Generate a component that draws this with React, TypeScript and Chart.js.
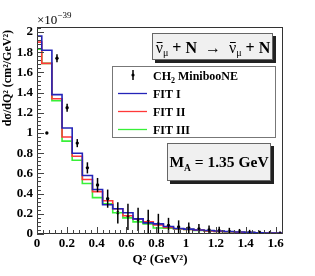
import React, { useEffect, useRef } from 'react';
import { Chart, registerables } from 'chart.js';

Chart.register(...registerables);

// Histogram bin edges (Q^2, GeV^2)
const binEdges = [0, 0.032, 0.1, 0.168, 0.236, 0.304, 0.372, 0.44, 0.508, 0.576, 0.644, 0.712, 0.78, 0.848, 0.916, 0.984, 1.052, 1.12, 1.188, 1.256, 1.324, 1.392, 1.46, 1.528, 1.596, 1.664];
// Bin contents (x 1e-39 cm^2/GeV^2)
const fit1 = [1.5, 1.96, 1.82, 1.38, 1.05, 0.8, 0.58, 0.44, 0.29, 0.25, 0.21, 0.15, 0.11, 0.1, 0.075, 0.055, 0.048, 0.04, 0.035, 0.03, 0.025, 0.02, 0.016, 0.013, 0.01];
const fit2 = [1.57, 1.9, 1.69, 1.34, 0.96, 0.77, 0.54, 0.42, 0.33, 0.25, 0.18, 0.15, 0.12, 0.09, 0.065, 0.052, 0.045, 0.038, 0.03, 0.026, 0.022, 0.018, 0.015, 0.012, 0.01];
const fit3 = [1.37, 1.83, 1.69, 1.32, 0.92, 0.73, 0.5, 0.36, 0.3, 0.21, 0.16, 0.12, 0.1, 0.06, 0.058, 0.05, 0.044, 0.035, 0.03, 0.025, 0.02, 0.017, 0.014, 0.012, 0.01];

// MiniBooNE CH2 data points
const dataQ2 = [0.066, 0.134, 0.202, 0.27, 0.338, 0.406, 0.474, 0.542, 0.61, 0.678, 0.746, 0.814, 0.882, 0.95, 1.018, 1.086, 1.154, 1.222, 1.29, 1.358, 1.426, 1.494, 1.562, 1.63];
const dataVal = [1.0, 1.74, 1.25, 0.9, 0.655, 0.485, 0.35, 0.21, 0.17, 0.145, 0.125, 0.1, 0.085, 0.07, 0.06, 0.05, 0.04, 0.032, 0.026, 0.02, 0.016, 0.013, 0.01, 0.008];
const dataErr = [0.01, 0.04, 0.04, 0.04, 0.055, 0.07, 0.09, 0.105, 0.13, 0.115, 0.115, 0.1, 0.075, 0.065, 0.055, 0.05, 0.045, 0.04, 0.035, 0.03, 0.025, 0.02, 0.018, 0.015];

const seriesNames = ['CH', 'FIT I', 'FIT II', 'FIT III'];
const colors = { fit1: '#2424b8', fit2: '#ff3838', fit3: '#38f038' };

const SERIF = '"Liberation Serif", "Times New Roman", serif';

function stepPoints(vals: number[]) {
  const pts = vals.map((v, i) => ({ x: binEdges[i], y: v }));
  pts.push({ x: binEdges[vals.length], y: vals[vals.length - 1] });
  return pts;
}

type Seg = { t: string; size: number; bold?: boolean; dy?: number; bar?: boolean };

function fontOf(s: Seg) {
  return `${s.bold ? 'bold ' : ''}${s.size}px ${SERIF}`;
}

function segWidth(ctx: CanvasRenderingContext2D, s: Seg) {
  ctx.font = fontOf(s);
  return ctx.measureText(s.t).width;
}

function drawSegs(ctx: CanvasRenderingContext2D, segs: Seg[], x: number, y: number, align: 'left' | 'center') {
  let total = 0;
  segs.forEach((s) => (total += segWidth(ctx, s)));
  let cx = align === 'center' ? x - total / 2 : x;
  ctx.textAlign = 'left';
  ctx.textBaseline = 'alphabetic';
  ctx.fillStyle = '#000';
  segs.forEach((s) => {
    const w = segWidth(ctx, s);
    ctx.font = fontOf(s);
    ctx.fillText(s.t, cx, y + (s.dy || 0));
    if (s.bar) {
      ctx.save();
      ctx.strokeStyle = '#000';
      ctx.lineWidth = 1;
      ctx.beginPath();
      ctx.moveTo(cx + 1, Math.round(y - s.size * 0.66) + 0.5);
      ctx.lineTo(cx + w - 0.5, Math.round(y - s.size * 0.66) + 0.5);
      ctx.stroke();
      ctx.restore();
    }
    cx += w;
  });
}

function shadowBox(ctx: CanvasRenderingContext2D, x: number, y: number, w: number, h: number) {
  ctx.fillStyle = '#222';
  ctx.fillRect(x + 3, y + 3, w, h);
  ctx.fillStyle = '#f0f0f0';
  ctx.fillRect(x, y, w, h);
  ctx.strokeStyle = '#666';
  ctx.lineWidth = 1;
  ctx.strokeRect(x + 0.5, y + 0.5, w - 1, h - 1);
}

const overlay = {
  id: 'overlay',
  afterDatasetsDraw(chart: any) {
    const ctx: CanvasRenderingContext2D = chart.ctx;
    const xs = chart.scales.x;
    const ys = chart.scales.y;
    const ca = chart.chartArea;
    ctx.save();
    ctx.beginPath();
    ctx.rect(ca.left, ca.top, ca.right - ca.left, ca.bottom - ca.top);
    ctx.clip();
    ctx.strokeStyle = '#000';
    ctx.lineWidth = 1.5;
    dataQ2.forEach((q, i) => {
      const px = xs.getPixelForValue(q);
      ctx.beginPath();
      ctx.moveTo(px, ys.getPixelForValue(dataVal[i] - dataErr[i]));
      ctx.lineTo(px, ys.getPixelForValue(dataVal[i] + dataErr[i]));
      ctx.stroke();
    });
    ctx.restore();

    // frame
    ctx.save();
    ctx.strokeStyle = '#333';
    ctx.lineWidth = 1;
    ctx.strokeRect(Math.round(ca.left) + 0.5, Math.round(ca.top) + 0.5, Math.round(ca.right - ca.left) - 1, Math.round(ca.bottom - ca.top) - 1);

    // ticks (major + 4 minor per division)
    ctx.strokeStyle = '#444';
    const yStep = 0.2 / 5;
    for (let k = 0; k * yStep <= ys.max + 1e-9; k++) {
      const major = k % 5 === 0;
      const py = Math.round(ys.getPixelForValue(k * yStep)) + 0.5;
      ctx.beginPath();
      ctx.moveTo(ca.left, py);
      ctx.lineTo(ca.left + (major ? 7 : 4), py);
      ctx.stroke();
    }
    const xStep = 0.2 / 5;
    for (let k = 0; k * xStep <= xs.max + 1e-9; k++) {
      const major = k % 5 === 0;
      const px = Math.round(xs.getPixelForValue(k * xStep)) + 0.5;
      ctx.beginPath();
      ctx.moveTo(px, ca.bottom);
      ctx.lineTo(px, ca.bottom - (major ? 7 : 4));
      ctx.stroke();
    }
    ctx.restore();
  },
  afterDraw(chart: any) {
    const ctx: CanvasRenderingContext2D = chart.ctx;
    const ca = chart.chartArea;
    ctx.save();

    // y-axis title (aligned to top end of axis)
    ctx.save();
    ctx.translate(11, ca.top + 3);
    ctx.rotate(-Math.PI / 2);
    ctx.font = `bold 12px ${SERIF}`;
    ctx.fillStyle = '#000';
    ctx.textAlign = 'right';
    ctx.textBaseline = 'alphabetic';
    ctx.fillText('dσ/dQ² (cm²/GeV²)', 0, 0);
    ctx.restore();

    // exponent
    drawSegs(ctx, [
      { t: '×10', size: 13 },
      { t: '−39', size: 9, dy: -6 },
    ], ca.left, 24, 'left');

    // reaction box
    shadowBox(ctx, 152, 33, 121, 27);
    drawSegs(ctx, [
      { t: 'ν', size: 16, bar: true },
      { t: 'μ', size: 10, dy: 3 },
      { t: ' + N ', size: 16, bold: true },
      { t: ' → ', size: 16 },
      { t: ' ', size: 16 },
      { t: 'ν', size: 16, bar: true },
      { t: 'μ', size: 10, dy: 3 },
      { t: ' + N', size: 16, bold: true },
    ], 213, 53, 'center');

    // legend box
    ctx.fillStyle = '#fff';
    ctx.fillRect(112, 66, 164, 72);
    ctx.strokeStyle = '#777';
    ctx.lineWidth = 1;
    ctx.strokeRect(112.5, 66.5, 163, 71);
    const rows = [75, 93, 111, 129];
    ctx.strokeStyle = '#000';
    ctx.lineWidth = 1.5;
    ctx.beginPath();
    ctx.moveTo(133, rows[0] - 5);
    ctx.lineTo(133, rows[0] + 5);
    ctx.stroke();
    ctx.fillStyle = '#000';
    ctx.beginPath();
    ctx.arc(133, rows[0], 1.6, 0, Math.PI * 2);
    ctx.fill();
    const lc = [colors.fit1, colors.fit2, colors.fit3];
    lc.forEach((c, i) => {
      ctx.strokeStyle = c;
      ctx.lineWidth = 1.3;
      ctx.beginPath();
      ctx.moveTo(118, rows[i + 1] + 0.5);
      ctx.lineTo(147, rows[i + 1] + 0.5);
      ctx.stroke();
    });
    drawSegs(ctx, [
      { t: seriesNames[0], size: 12, bold: true },
      { t: '2', size: 8, bold: true, dy: 3 },
      { t: ' MinibooNE', size: 12, bold: true },
    ], 153, rows[0] + 4.5, 'left');
    for (let i = 1; i < 4; i++) {
      drawSegs(ctx, [{ t: seriesNames[i], size: 12, bold: true }], 153, rows[i] + 4.5, 'left');
    }

    // M_A box
    shadowBox(ctx, 167, 143, 104, 38);
    drawSegs(ctx, [
      { t: 'M', size: 15.5, bold: true },
      { t: 'A', size: 9.5, bold: true, dy: 4 },
      { t: ' = 1.35 GeV', size: 15.5, bold: true },
    ], 219, 167, 'center');
    ctx.restore();
  },
};

export default function App() {
  const ref = useRef<HTMLCanvasElement | null>(null);
  useEffect(() => {
    if (!ref.current) return;
    const chart = new Chart(ref.current, {
      type: 'line',
      data: {
        datasets: [
          {
            label: 'FIT I',
            data: stepPoints(fit1),
            borderColor: colors.fit1,
            borderWidth: 1.6,
            stepped: 'after',
            pointRadius: 0,
            fill: false,
          },
          {
            label: 'FIT II',
            data: stepPoints(fit2),
            borderColor: colors.fit2,
            borderWidth: 1.6,
            stepped: 'after',
            pointRadius: 0,
            fill: false,
          },
          {
            label: 'FIT III',
            data: stepPoints(fit3),
            borderColor: colors.fit3,
            borderWidth: 1.6,
            stepped: 'after',
            pointRadius: 0,
            fill: false,
          },
          {
            type: 'scatter',
            label: 'CH2 MinibooNE',
            data: dataQ2.map((q, i) => ({ x: q, y: dataVal[i] })),
            pointRadius: 1.7,
            pointBackgroundColor: '#000',
            pointBorderWidth: 0,
            showLine: false,
          } as any,
        ],
      },
      options: {
        responsive: false,
        animation: false,
        events: [],
        layout: { padding: { left: 0, top: 27, right: 32, bottom: 0 } },
        plugins: { legend: { display: false }, tooltip: { enabled: false } },
        scales: {
          x: {
            type: 'linear',
            min: 0,
            max: 1.65,
            grid: { display: false, drawTicks: false },
            border: { display: false },
            ticks: {
              stepSize: 0.2,
              includeBounds: false,
              padding: 2,
              maxRotation: 0,
              autoSkip: false,
              color: '#000',
              font: { family: SERIF, size: 13, weight: 'bold' },
              callback: (v: any) => String(+Number(v).toFixed(1)),
            },
            title: {
              display: true,
              text: 'Q² (GeV²)',
              color: '#000',
              font: { family: SERIF, size: 13, weight: 'bold' },
              padding: { top: 0, bottom: 9 },
            },
            afterFit: (s: any) => {
              s.height = 42;
            },
          },
          y: {
            type: 'linear',
            min: 0,
            max: 2.05,
            grid: { display: false, drawTicks: false },
            border: { display: false },
            ticks: {
              stepSize: 0.2,
              includeBounds: false,
              padding: 4,
              color: '#000',
              font: { family: SERIF, size: 13, weight: 'bold' },
              callback: (v: any) => String(+Number(v).toFixed(1)),
            },
            title: { display: false },
            afterFit: (s: any) => {
              s.width = 37;
            },
          },
        },
      },
      plugins: [overlay],
    });
    return () => chart.destroy();
  }, []);
  return (
    <div style={{ position: 'absolute', left: 0, top: 0, width: 315, height: 276, background: '#fff' }}>
      <canvas ref={ref} width={315} height={276} style={{ width: 315, height: 276, display: 'block' }} />
    </div>
  );
}
